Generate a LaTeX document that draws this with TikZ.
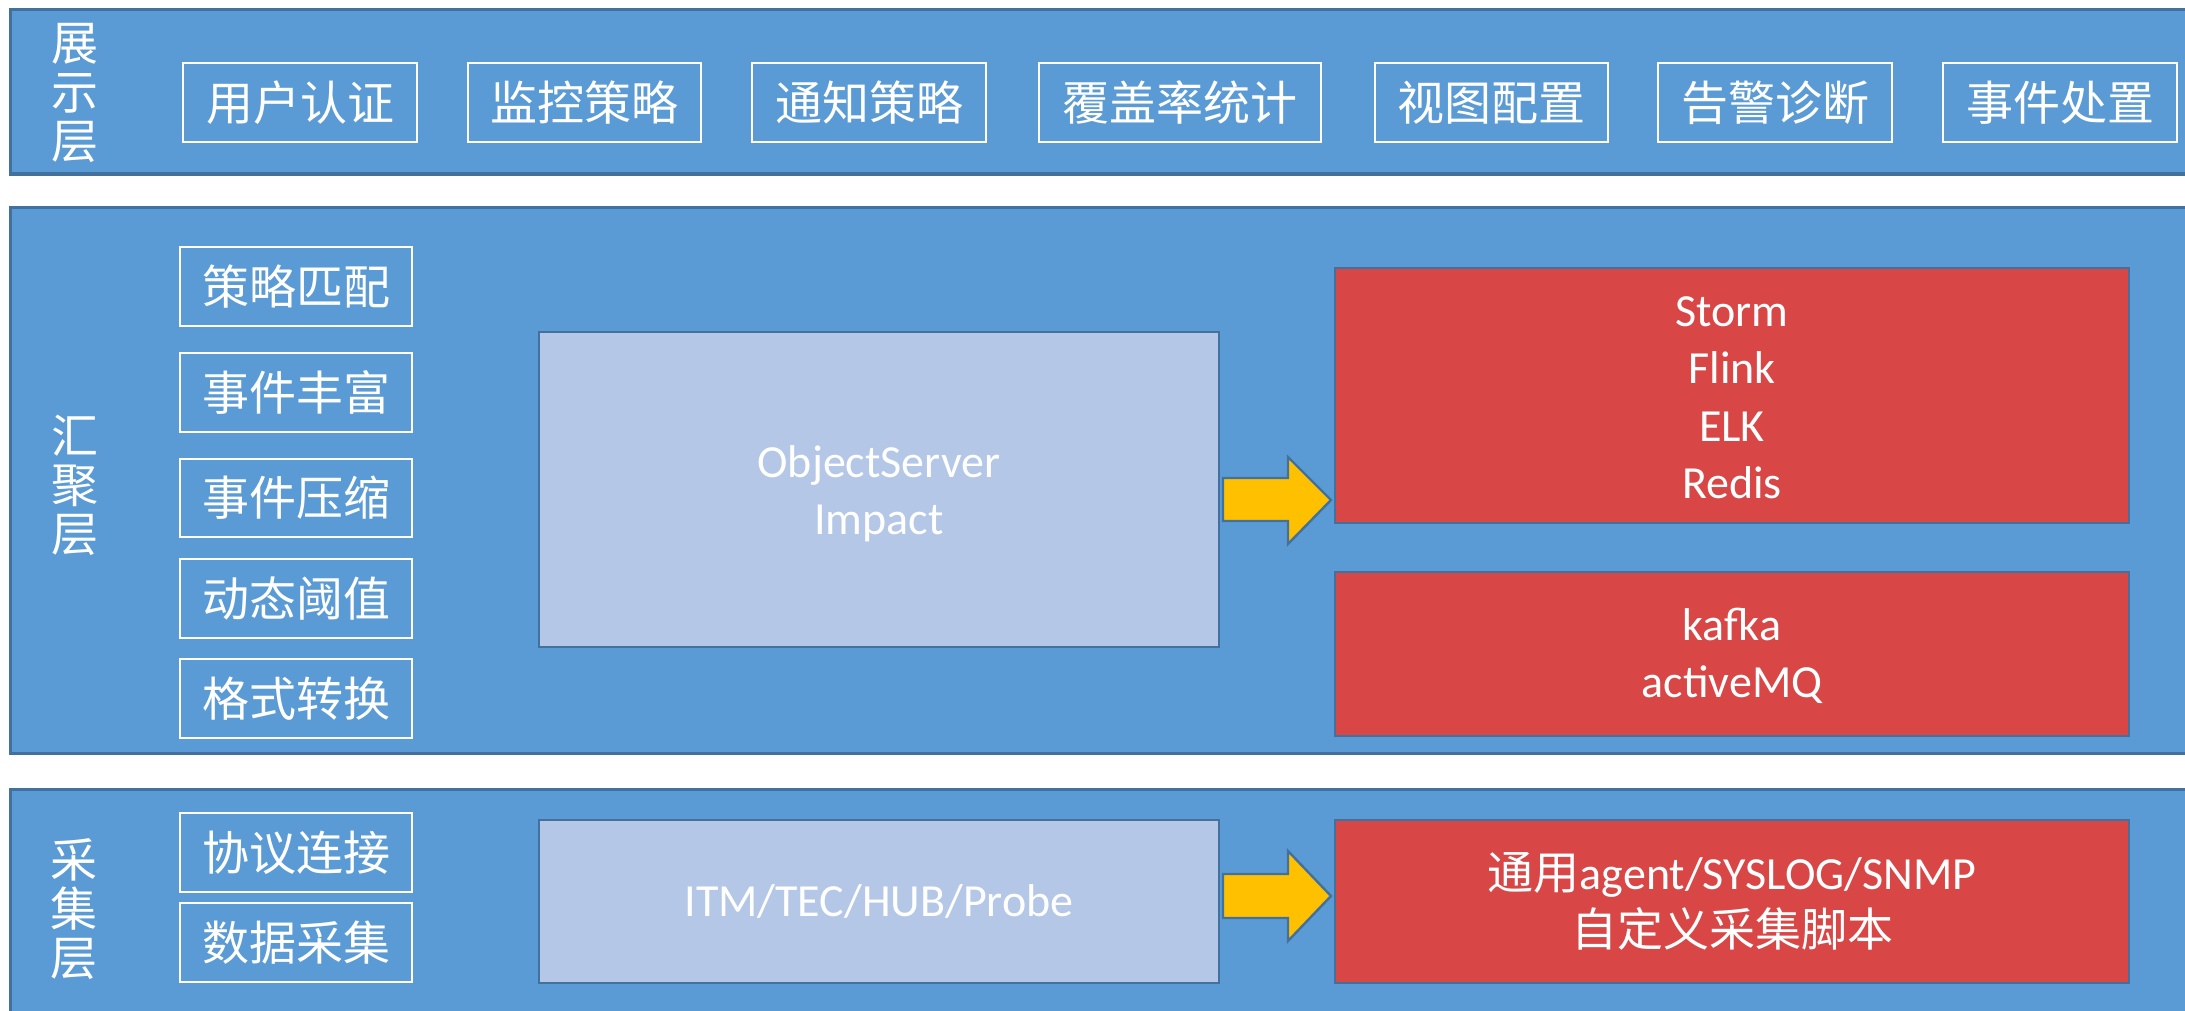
\documentclass[tikz,border=0pt]{standalone}
\usepackage{fontspec}
\setmainfont{Carlito}
\newfontfamily\cjk{Noto Sans CJK SC}
\usetikzlibrary{fit}
\definecolor{bandfill}{HTML}{5B9BD5}
\definecolor{bandline}{HTML}{41719C}
\definecolor{lightfill}{HTML}{B4C7E7}
\definecolor{redfill}{HTML}{D94646}
\definecolor{arrowfill}{HTML}{FFC000}
\tikzset{
 band/.style={fill=bandfill, draw=bandline, line width=1.5pt, inner sep=0pt},
 cjktext/.style={text=white, inner sep=0pt, font=\cjk\fontsize{23.5}{28.75}\selectfont},
 lattext/.style={text=white, inner sep=0pt, align=center, font=\fontsize{23}{28.75}\selectfont},
 wbox/.style={draw=white, line width=1.2pt, inner sep=0pt, label={[cjktext]center:#1}},
 lbox/.style={fill=lightfill, draw=bandline, line width=1.2pt, inner sep=0pt},
 rbox/.style={fill=redfill, draw=bandline, line width=1.2pt, inner sep=0pt},
 layerlabel/.style={text=white, font=\cjk\fontsize{23.5}{24.5}\selectfont, align=center, inner sep=0pt},
 blockarrow/.style={fill=arrowfill, draw=bandline, line width=1.2pt, line join=miter},
}
\begin{document}
\begin{tikzpicture}[x=0.5pt,y=-0.5pt]
\useasboundingbox (0,0) rectangle (2185,1011);
\clip (0,0) rectangle (2185,1011);
\fill[white] (0,0) rectangle (2185,1011);
% bands
\node[band, fit={(10,10) (2210,174)}] (top) {};
\node[band, fit={(10,207) (2210,753)}] (mid) {};
\node[band, fit={(10,789) (2210,1040)}] (bot) {};
% layer labels
\node[layerlabel] (l1) at (75,93) {展\\示\\层};
\node[layerlabel] (l2) at (75,485) {汇\\聚\\层};
\node[layerlabel] (l3) at (74,909) {采\\集\\层};
% top boxes
\node[wbox=用户认证, fit={(183,63) (417,142)}] (t1) {};
\node[wbox=监控策略, fit={(468,63) (701,142)}] (t2) {};
\node[wbox=通知策略, fit={(752,63) (986,142)}] (t3) {};
\node[wbox=覆盖率统计, fit={(1039,63) (1321,142)}] (t4) {};
\node[wbox=视图配置, fit={(1375,63) (1608,142)}] (t5) {};
\node[wbox=告警诊断, fit={(1658,63) (1892,142)}] (t6) {};
\node[wbox=事件处置, fit={(1943,63) (2177,142)}] (t7) {};
% middle left boxes
\node[wbox=策略匹配, fit={(180,247) (412,326)}] (m1) {};
\node[wbox=事件丰富, fit={(180,353) (412,432)}] (m2) {};
\node[wbox=事件压缩, fit={(180,459) (412,537)}] (m3) {};
\node[wbox=动态阈值, fit={(180,559) (412,638)}] (m4) {};
\node[wbox=格式转换, fit={(180,659) (412,738)}] (m5) {};
% bottom left boxes
\node[wbox=协议连接, fit={(180,813) (412,892)}] (b1) {};
\node[wbox=数据采集, fit={(180,903) (412,982)}] (b2) {};
% light boxes
\node[lbox, fit={(539,332) (1219,647)}] (obj) {};
\node[lattext] (objt) at ([yshift=-2pt]obj.center) {ObjectServer\\Impact};
\node[lbox, fit={(539,820) (1219,983)}] (itm) {};
\node[lattext] (itmt) at (itm.center) {ITM/TEC/HUB/Probe};
% red boxes
\node[rbox, fit={(1335,268) (2129,523)}] (storm) {};
\node[lattext] (stormt) at ([yshift=-1pt]storm.center) {Storm\\Flink\\ELK\\Redis};
\node[rbox, fit={(1335,572) (2129,736)}] (kafka) {};
\node[lattext] (kafkat) at ([yshift=-1pt]kafka.center) {kafka\\activeMQ};
\node[rbox, fit={(1335,820) (2129,983)}] (agent) {};
\node[lattext] (agentt) at (agent.center) {{\cjk 通用}agent/SYSLOG/SNMP\\{\cjk 自定义采集脚本}};
% block arrows
\draw[blockarrow] (1223,478) -- (1288,478) -- (1288,457) -- (1331,500) -- (1288,544) -- (1288,521) -- (1223,521) -- cycle;
\draw[blockarrow] (1223,874) -- (1288,874) -- (1288,851) -- (1331,896) -- (1288,941) -- (1288,918) -- (1223,918) -- cycle;
\end{tikzpicture}
\end{document}
